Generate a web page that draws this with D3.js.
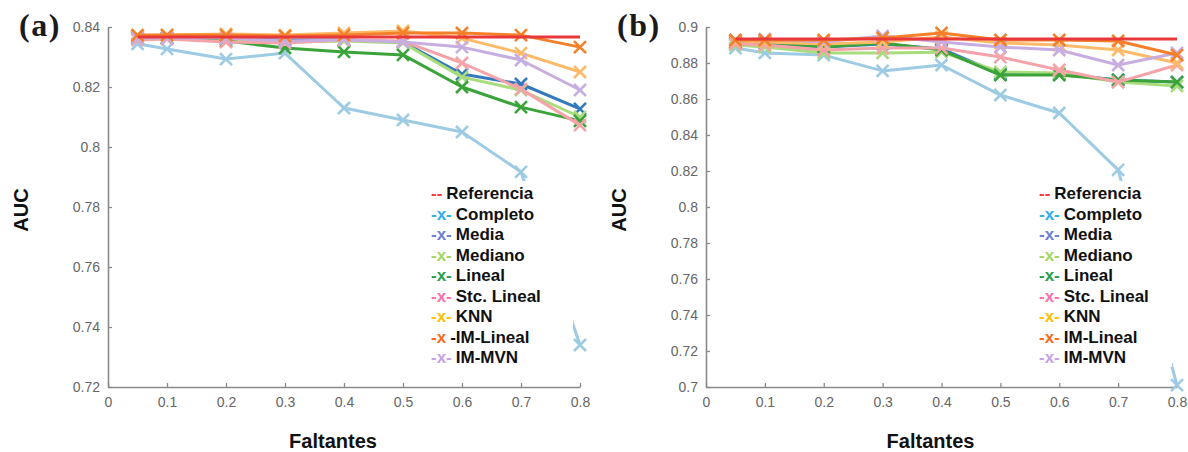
<!DOCTYPE html>
<html>
<head>
<meta charset="utf-8">
<script src="https://cdn.jsdelivr.net/npm/d3@7"></script>
<style>
  body { margin: 0; background: #fff; }
  svg { display: block; font-family: "Liberation Sans", Arial, sans-serif; }
</style>
</head>
<body>
<script>
// data
const missing = [0.05, 0.1, 0.2, 0.3, 0.4, 0.5, 0.6, 0.7, 0.8];
const methods = ["Referencia", "Completo", "Media", "Mediano", "Lineal", "Stc. Lineal", "KNN", "IM-Lineal", "IM-MVN"];
const xTicks = [0, 0.1, 0.2, 0.3, 0.4, 0.5, 0.6, 0.7, 0.8];
const yTicksA = [0.72, 0.74, 0.76, 0.78, 0.8, 0.82, 0.84];
const yTicksB = [0.7, 0.72, 0.74, 0.76, 0.78, 0.8, 0.82, 0.84, 0.86, 0.88, 0.9];

// panel (a)
const refA      = [0.8367, 0.8367, 0.8367, 0.8367, 0.8367, 0.8367, 0.8367, 0.8367, 0.8367];
const completoA = [0.8344, 0.8327, 0.8293, 0.8313, 0.8130, 0.8090, 0.8050, 0.7917, 0.7340];
const mediaA    = [0.8367, 0.8363, 0.8360, 0.8357, 0.8357, 0.8350, 0.8243, 0.8210, 0.8127];
const medianoA  = [0.8363, 0.8363, 0.8360, 0.8350, 0.8353, 0.8347, 0.8233, 0.8190, 0.8100];
const linealA   = [0.8363, 0.8363, 0.8353, 0.8330, 0.8317, 0.8307, 0.8200, 0.8133, 0.8087];
const stcA      = [0.8357, 0.8360, 0.8350, 0.8347, 0.8357, 0.8353, 0.8280, 0.8193, 0.8073];
const knnA      = [0.8370, 0.8373, 0.8377, 0.8373, 0.8380, 0.8387, 0.8363, 0.8313, 0.8250];
const imLinA    = [0.8373, 0.8373, 0.8373, 0.8370, 0.8373, 0.8380, 0.8380, 0.8373, 0.8333];
const imMvnA    = [0.8363, 0.8363, 0.8363, 0.8353, 0.8357, 0.8350, 0.8333, 0.8290, 0.8190];

// panel (b)
const refB      = [0.8933, 0.8933, 0.8933, 0.8933, 0.8933, 0.8933, 0.8933, 0.8933, 0.8933];
const completoB = [0.8883, 0.8856, 0.8844, 0.8756, 0.8789, 0.8622, 0.8522, 0.8206, 0.7010];
const mediaB    = [0.8917, 0.8911, 0.8889, 0.8906, 0.8878, 0.8739, 0.8739, 0.8706, 0.8694];
const medianoB  = [0.8900, 0.8889, 0.8856, 0.8856, 0.8860, 0.8750, 0.8744, 0.8694, 0.8672];
const linealB   = [0.8911, 0.8917, 0.8889, 0.8911, 0.8872, 0.8733, 0.8733, 0.8706, 0.8694];
const stcB      = [0.8906, 0.8900, 0.8872, 0.8883, 0.8883, 0.8833, 0.8761, 0.8694, 0.8789];
const knnB      = [0.8922, 0.8917, 0.8906, 0.8917, 0.8944, 0.8911, 0.8900, 0.8872, 0.8800];
const imLinB    = [0.8928, 0.8928, 0.8928, 0.8939, 0.8967, 0.8928, 0.8928, 0.8922, 0.8844];
const imMvnB    = [0.8928, 0.8933, 0.8917, 0.8950, 0.8917, 0.8889, 0.8872, 0.8789, 0.8856];

// legend entries as printed in each panel
const legendMarksA = ["--", "-x-", "-x-", "-x-", "-x-", "-x-", "-x-", "-x", "-x-"];
const legendLabelsA = ["Referencia", "Completo", "Media", "Mediano", "Lineal", "Stc. Lineal", "KNN", "-IM-Lineal", "IM-MVN"];
const legendMarksB = ["--", "-x-", "-x-", "-x-", "-x-", "-x-", "-x-", "-x-", "-x-"];
const legendLabelsB = methods;

// styles
const width = 1188;
const height = 452;
const lineColors = ["#e8383a", "#9ccbe3", "#3579bd", "#a8dc7c", "#3aa33a", "#f5a3a8", "#fdbb6a", "#f4802a", "#c8aee0"];
const legendColors = ["#ff3b3b", "#2bb0e8", "#6a7fd6", "#a3d65c", "#22a34a", "#ff70a8", "#ffc000", "#ff6a1a", "#c8a2e8"];
const drawOrder = [1, 2, 3, 4, 5, 6, 8, 7, 0];

var svg;

function drawPanel(p) {
    var x_scale = d3.scaleLinear().domain([0, 0.8]).range([p.left, p.right]);
    var y_scale = d3.scaleLinear().domain(p.yDomain).range([p.bottom, p.top]);
    var fmt = (d) => String(+d.toFixed(2));

    var g = svg.append("g");

    // axes, ticks point inwards
    var x_axis = d3.axisBottom(x_scale).tickValues(xTicks).tickFormat(fmt)
        .tickSizeInner(-4).tickSizeOuter(0).tickPadding(10);
    var y_axis = d3.axisLeft(y_scale).tickValues(p.yTicks).tickFormat(fmt)
        .tickSizeInner(-4).tickSizeOuter(0).tickPadding(8);

    var gx = g.append("g").attr("transform", "translate(0," + p.bottom + ")").call(x_axis);
    var gy = g.append("g").attr("transform", "translate(" + p.left + ",0)").call(y_axis);
    [gx, gy].forEach((ax) => {
        ax.select(".domain").attr("stroke", "#8a8a8a").attr("stroke-width", 1.6);
        ax.selectAll(".tick line").attr("stroke", "#8a8a8a").attr("stroke-width", 1.3);
        ax.selectAll(".tick text").attr("fill", "#666").style("font-size", "14px");
    });

    // lines + markers
    var line = d3.line().x((d, i) => x_scale(missing[i])).y((d) => y_scale(d));
    drawOrder.forEach((k) => {
        var vals = p.series[k];
        g.append("path")
            .attr("d", line(vals))
            .attr("fill", "none")
            .attr("stroke", lineColors[k])
            .attr("stroke-width", 3)
            .attr("stroke-linejoin", "round");
        if (k === 0) return; // reference has no markers
        g.selectAll(null)
            .data(vals)
            .enter()
            .append("path")
            .attr("transform", (d, i) => "translate(" + x_scale(missing[i]) + "," + y_scale(d) + ")")
            .attr("d", "M-6,-6L6,6M-6,6L6,-6")
            .attr("stroke", lineColors[k])
            .attr("stroke-width", 2.6)
            .attr("fill", "none");
    });

    // legend with white background
    g.append("rect")
        .attr("x", p.legendX - 8).attr("y", 181)
        .attr("width", p.legendW).attr("height", 186)
        .attr("fill", "#fff");
    p.labels.forEach((name, i) => {
        var t = g.append("text")
            .attr("x", p.legendX)
            .attr("y", 199 + i * 20.5)
            .style("font-weight", "bold");
        t.append("tspan").attr("fill", legendColors[i]).style("font-size", "17px").text(p.marks[i]);
        t.append("tspan").attr("fill", "#111").attr("dx", 4).style("font-size", "17px").text(name);
    });

    // labels
    g.append("text")
        .attr("x", p.left - 89).attr("y", 36)
        .style("font-family", "'Liberation Serif', 'Times New Roman', serif")
        .style("font-weight", "bold").style("font-size", "32px")
        .style("letter-spacing", "1.5px")
        .attr("fill", "#1a1a1a")
        .text(p.tag);
    g.append("text")
        .attr("transform", "translate(" + (p.left - 80) + "," + 210 + ") rotate(-90)")
        .attr("text-anchor", "middle")
        .style("font-weight", "bold").style("font-size", "20px")
        .attr("fill", "#111")
        .text("AUC");
    g.append("text")
        .attr("x", (p.left + p.right) / 2 - 11).attr("y", 448)
        .attr("text-anchor", "middle")
        .style("font-weight", "bold").style("font-size", "20px")
        .attr("fill", "#111")
        .text("Faltantes");
}

document.addEventListener('DOMContentLoaded', function () {
    svg = d3.select("body").append("svg").attr("width", width).attr("height", height);

    drawPanel({
        tag: "(a)", left: 108, right: 580, top: 27, bottom: 387,
        yDomain: [0.72, 0.84], yTicks: yTicksA,
        series: [refA, completoA, mediaA, medianoA, linealA, stcA, knnA, imLinA, imMvnA],
        marks: legendMarksA, labels: legendLabelsA, legendX: 431, legendW: 150
    });
    drawPanel({
        tag: "(b)", left: 706, right: 1177, top: 27, bottom: 387,
        yDomain: [0.7, 0.9], yTicks: yTicksB,
        series: [refB, completoB, mediaB, medianoB, linealB, stcB, knnB, imLinB, imMvnB],
        marks: legendMarksB, labels: legendLabelsB, legendX: 1039, legendW: 141
    });
});
</script>
</body>
</html>
